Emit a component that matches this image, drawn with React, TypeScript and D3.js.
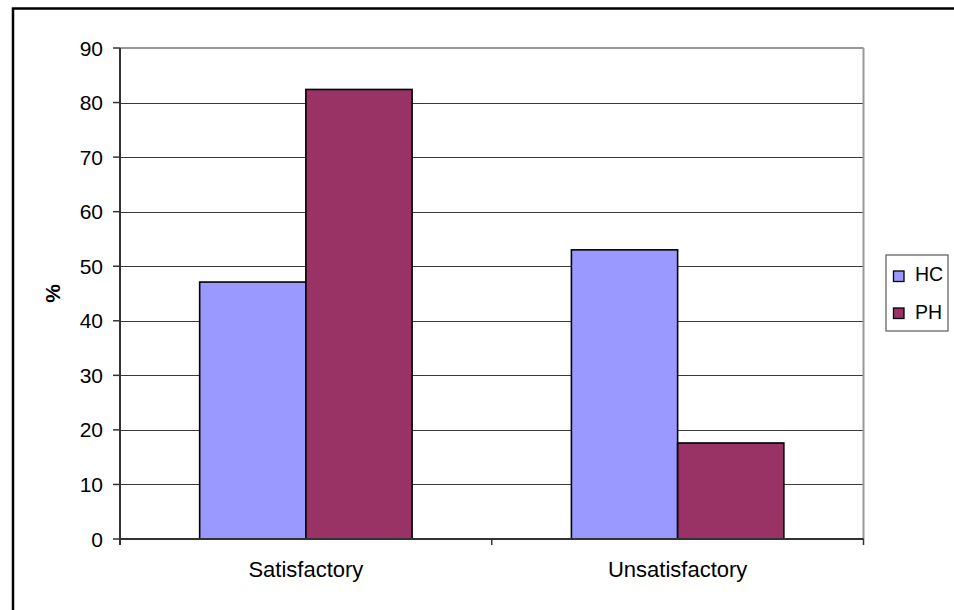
import React from "react";
import * as d3 from "d3";

// Share of ratings per category, in percent
const categories = ["Satisfactory", "Unsatisfactory"];
const seriesNames = ["HC", "PH"];
const hcValues = [47.1, 53.0];
const phValues = [82.4, 17.6];
const yTicks = [0, 10, 20, 30, 40, 50, 60, 70, 80, 90];
const seriesColors = ["#9999FF", "#993366"];

const W = 954;
const H = 610;
const plot = { left: 120, right: 863.5, top: 48, bottom: 539 };
const FONT = "'Liberation Sans', Arial, Helvetica, sans-serif";

export default function App() {
  const x0 = d3
    .scaleBand<string>()
    .domain(categories)
    .range([plot.left, plot.right])
    .paddingInner(0)
    .paddingOuter(0);
  const x1 = d3
    .scaleBand<string>()
    .domain(seriesNames)
    .range([0, x0.bandwidth()])
    .paddingInner(0)
    .paddingOuter(0.75);
  const y = d3.scaleLinear().domain([0, 90]).range([plot.bottom, plot.top]);
  const color = d3.scaleOrdinal<string, string>().domain(seriesNames).range(seriesColors);

  const seriesValues: Record<string, number[]> = { HC: hcValues, PH: phValues };
  const catTicks = [plot.left, ...categories.map((c) => (x0(c) as number) + x0.bandwidth())];

  return (
    <svg
      width={W}
      height={H}
      style={{ position: "absolute", left: 0, top: 0, background: "#fff" }}
      fontFamily={FONT}
    >
      {/* chart frame */}
      <rect x={13} y={8.5} width={W + 20} height={H + 20} fill="none" stroke="#000" strokeWidth={2.5} />

      {/* horizontal gridlines */}
      {yTicks.slice(1).map((t) => (
        <line
          key={"g" + t}
          x1={plot.left}
          x2={plot.right}
          y1={Math.round(y(t)) + 0.5}
          y2={Math.round(y(t)) + 0.5}
          stroke="#3a3a3a"
          strokeWidth={1}
        />
      ))}

      {/* plot area border (top and right) */}
      <line x1={plot.left} x2={plot.right} y1={plot.top} y2={plot.top} stroke="#999" strokeWidth={1.8} />
      <line x1={plot.right} x2={plot.right} y1={plot.top} y2={plot.bottom} stroke="#999" strokeWidth={2} />

      {/* bars */}
      {categories.map((c, ci) =>
        seriesNames.map((s) => {
          const v = seriesValues[s][ci];
          const bx = (x0(c) as number) + (x1(s) as number);
          return (
            <rect
              key={c + s}
              x={bx}
              y={y(v)}
              width={x1.bandwidth()}
              height={y(0) - y(v)}
              fill={color(s)}
              stroke="#000"
              strokeWidth={1.6}
            />
          );
        })
      )}

      {/* value axis */}
      <line x1={plot.left} x2={plot.left} y1={plot.top} y2={plot.bottom + 6} stroke="#333" strokeWidth={2} />
      {yTicks.map((t) => (
        <g key={"t" + t}>
          <line x1={plot.left - 7} x2={plot.left} y1={y(t)} y2={y(t)} stroke="#333" strokeWidth={1.5} />
          <text
            x={plot.left - 17}
            y={y(t)}
            dy="0.36em"
            textAnchor="end"
            fontSize={21}
            fill="#000"
          >
            {t}
          </text>
        </g>
      ))}

      {/* category axis */}
      <line x1={plot.left} x2={plot.right} y1={plot.bottom} y2={plot.bottom} stroke="#333" strokeWidth={1.8} />
      {catTicks.map((tx, i) => (
        <line key={"c" + i} x1={tx} x2={tx} y1={plot.bottom} y2={plot.bottom + 6} stroke="#333" strokeWidth={1.5} />
      ))}
      {categories.map((c) => (
        <text
          key={"l" + c}
          x={(x0(c) as number) + x0.bandwidth() / 2}
          y={577}
          textAnchor="middle"
          fontSize={22}
          fill="#000"
        >
          {c}
        </text>
      ))}

      {/* axis title */}
      <text
        transform={`translate(53,${(plot.top + plot.bottom) / 2}) rotate(-90)`}
        textAnchor="middle"
        dy="0.35em"
        fontSize={21}
        fontWeight="bold"
        fill="#000"
      >
        %
      </text>

      {/* legend */}
      <rect x={886} y={255} width={62} height={76} fill="#fff" stroke="#666" strokeWidth={1.3} />
      {seriesNames.map((s, i) => (
        <g key={"lg" + s}>
          <rect x={893.5} y={271 + i * 37} width={10.5} height={10.5} fill={color(s)} stroke="#000" strokeWidth={1.3} />
          <text x={915} y={281 + i * 37.5} fontSize={19.5} fill="#000">
            {s}
          </text>
        </g>
      ))}
    </svg>
  );
}
